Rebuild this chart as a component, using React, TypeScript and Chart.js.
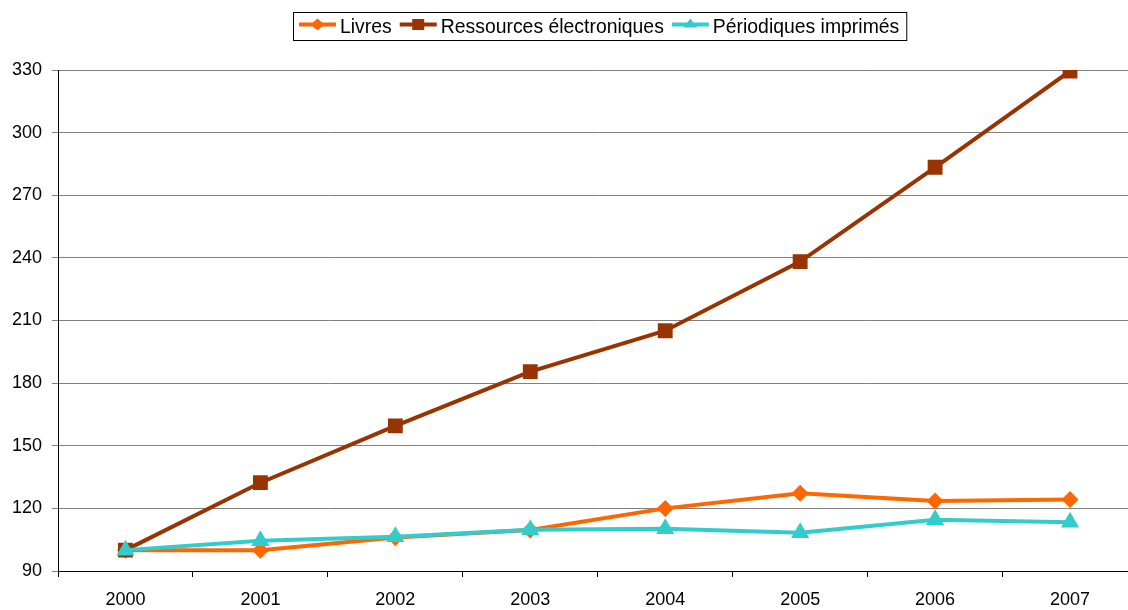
import React, { useEffect, useRef } from "react";
import { Chart, registerables } from "chart.js";

Chart.register(...registerables);

const years = ["2000", "2001", "2002", "2003", "2004", "2005", "2006", "2007"];
const livres = [100, 100, 106, 109.6, 120, 127.2, 123.5, 124.3];
const ressources = [100, 132.3, 159.5, 185.5, 205.1, 238.2, 283.4, 329.5];
const periodiques = [100, 104.5, 106.4, 109.8, 110.2, 108.3, 114.6, 113.3];
const seriesNames = ["Livres", "Ressources électroniques", "Périodiques imprimés"];
const seriesColors = ["#FF6600", "#993300", "#33CCCC"];
const seriesMarkers = ["rectRot", "rect", "triangle"];

const FONT = "'Liberation Sans', Arial, sans-serif";

const legendPlugin = {
  id: "boxLegend",
  afterDraw(chart: any) {
    const ctx = chart.ctx;
    ctx.save();
    ctx.font = `19.4px ${FONT}`;
    const left = 293;
    const top = 12;
    const h = 28;
    const lineLen = 37;
    const cy = 24.5;
    let x = left + 6;
    const items: any[] = [];
    seriesNames.forEach((name, i) => {
      const tw = ctx.measureText(name).width;
      items.push({ x, tw, name, i });
      x += lineLen + 4 + tw + 8;
    });
    const right = x - 8 + 7;
    ctx.strokeStyle = "#000";
    ctx.lineWidth = 1;
    ctx.strokeRect(left + 0.5, top + 0.5, right - left, h);
    items.forEach((it) => {
      const color = seriesColors[it.i];
      ctx.strokeStyle = color;
      ctx.lineWidth = 4;
      ctx.beginPath();
      ctx.moveTo(it.x, cy);
      ctx.lineTo(it.x + lineLen, cy);
      ctx.stroke();
      const mx = it.x + lineLen / 2;
      ctx.fillStyle = color;
      ctx.beginPath();
      const m = seriesMarkers[it.i];
      if (m === "rectRot") {
        ctx.moveTo(mx, cy - 6);
        ctx.lineTo(mx + 7, cy);
        ctx.lineTo(mx, cy + 6);
        ctx.lineTo(mx - 7, cy);
      } else if (m === "rect") {
        ctx.rect(mx - 6, cy - 5.5, 12, 11);
      } else {
        ctx.moveTo(mx, cy - 6);
        ctx.lineTo(mx + 7, cy + 3);
        ctx.lineTo(mx - 7, cy + 3);
      }
      ctx.closePath();
      ctx.fill();
      ctx.fillStyle = "#000";
      ctx.textBaseline = "middle";
      ctx.textAlign = "left";
      ctx.fillText(it.name, it.x + lineLen + 4, cy + 3);
    });
    ctx.restore();
  },
};

export default function App() {
  const ref = useRef<HTMLCanvasElement | null>(null);
  useEffect(() => {
    if (!ref.current) return;
    const values = [livres, ressources, periodiques];
    const radii = [8.5, 10.5, 10.5];
    const chart = new Chart(ref.current, {
      type: "line",
      data: {
        labels: years,
        datasets: seriesNames.map((name, i) => ({
          label: name,
          data: values[i],
          borderColor: seriesColors[i],
          backgroundColor: seriesColors[i],
          borderWidth: 4,
          pointStyle: seriesMarkers[i] as any,
          pointRadius: radii[i],
          pointBorderWidth: 0,
          pointBackgroundColor: seriesColors[i],
          tension: 0,
          order: 3 - i,
        })),
      },
      options: {
        responsive: false,
        animation: false,
        devicePixelRatio: 1,
        layout: { padding: { top: 70, left: 0, right: 0, bottom: 0 } },
        plugins: { legend: { display: false }, tooltip: { enabled: false } },
        scales: {
          x: {
            offset: true,
            grid: {
              offset: true,
              drawOnChartArea: false,
              drawTicks: true,
              tickLength: 6,
              color: "#000",
            },
            border: { color: "#000", width: 1 },
            ticks: { color: "#000", font: { family: FONT, size: 18 }, padding: 12, maxRotation: 0 },
            afterFit(scale: any) {
              scale.height = 39;
            },
          },
          y: {
            min: 90,
            max: 330,
            ticks: { stepSize: 30, color: "#000", font: { family: FONT, size: 18 }, padding: 10 },
            grid: { color: "#808080", lineWidth: 1, tickLength: 6 },
            border: { color: "#000", width: 1 },
            afterFit(scale: any) {
              scale.width = 58;
            },
          },
        },
      },
      plugins: [legendPlugin],
    });
    return () => chart.destroy();
  }, []);
  return (
    <div
      style={{
        position: "fixed",
        left: 0,
        top: 0,
        width: 1128,
        height: 610,
        overflow: "hidden",
        background: "#fff",
      }}
    >
      <canvas ref={ref} width={1148} height={610} style={{ width: 1148, height: 610, display: "block" }} />
    </div>
  );
}
